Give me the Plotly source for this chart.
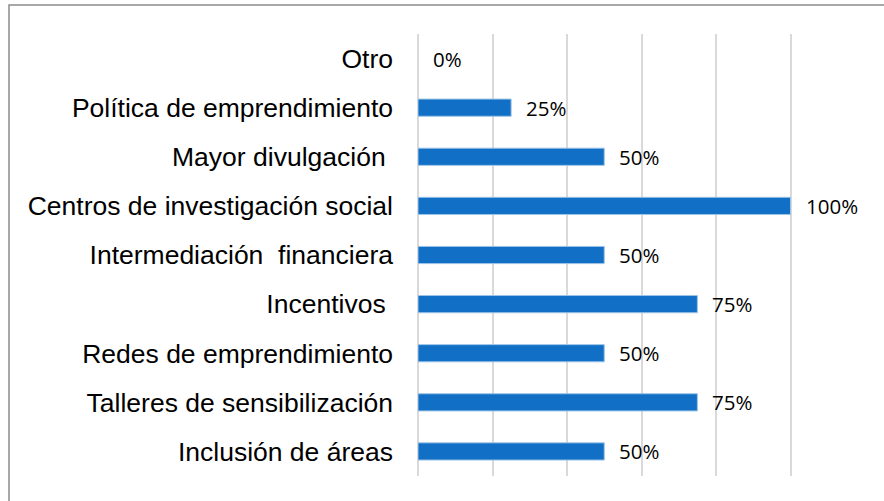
import plotly.graph_objects as go

categories = [
    "Inclusión de áreas",
    "Talleres de sensibilización",
    "Redes de emprendimiento",
    "Incentivos ",
    "Intermediación  financiera",
    "Centros de investigación social",
    "Mayor divulgación ",
    "Política de emprendimiento",
    "Otro",
]
values = [50, 75, 50, 75, 50, 100, 50, 25, 0]
value_labels = ["50%", "75%", "50%", "75%", "50%", "100%", "50%", "25%", "0%"]

W, H = 884, 501
L, R, T, B = 418, 19, 34, 25

fig = go.Figure()
fig.add_trace(go.Bar(
    x=values, y=categories, orientation="h",
    marker=dict(color="#1170C6",
                line=dict(color="#9DC3E6", width=[1 if v > 0 else 0 for v in values])),
    hoverinfo="skip", showlegend=False,
))

for v, c, t in zip(values, categories, value_labels):
    fig.add_annotation(
        x=v, y=c, text=t, showarrow=False, xanchor="left", yanchor="middle",
        xshift=13, font=dict(family="Open Sans", size=20.5, color="#000000"),
    )

pw = W - L - R
ph = H - T - B
fig.add_shape(
    type="rect", xref="paper", yref="paper",
    x0=(9 - L) / pw, x1=(W + 20 - L) / pw,
    y0=-(B + 20) / ph, y1=1 + (T - 5) / ph,
    line=dict(color="#8C8C8C", width=1.5), fillcolor="rgba(0,0,0,0)", layer="below",
)

fig.update_layout(
    width=W, height=H,
    margin=dict(l=L, r=R, t=T, b=B, autoexpand=False),
    paper_bgcolor="white", plot_bgcolor="white",
    bargap=0.65,
    xaxis=dict(
        range=[0, 120], dtick=20, showticklabels=False, showgrid=True,
        gridcolor="#D9D9D9", gridwidth=1.5, zeroline=True,
        zerolinecolor="#D9D9D9", zerolinewidth=1.5, showline=False, fixedrange=True,
    ),
    yaxis=dict(
        categoryorder="array", categoryarray=categories,
        tickfont=dict(family="Liberation Sans, Arial", size=26.5, color="#000000"),
        ticks="", ticklabelstandoff=24, showgrid=False, showline=False, fixedrange=True,
    ),
)

fig.write_html(
    "out.html",
    config={"displayModeBar": False},
    post_script="document.body.style.margin='0';document.body.style.overflow='hidden';",
)
